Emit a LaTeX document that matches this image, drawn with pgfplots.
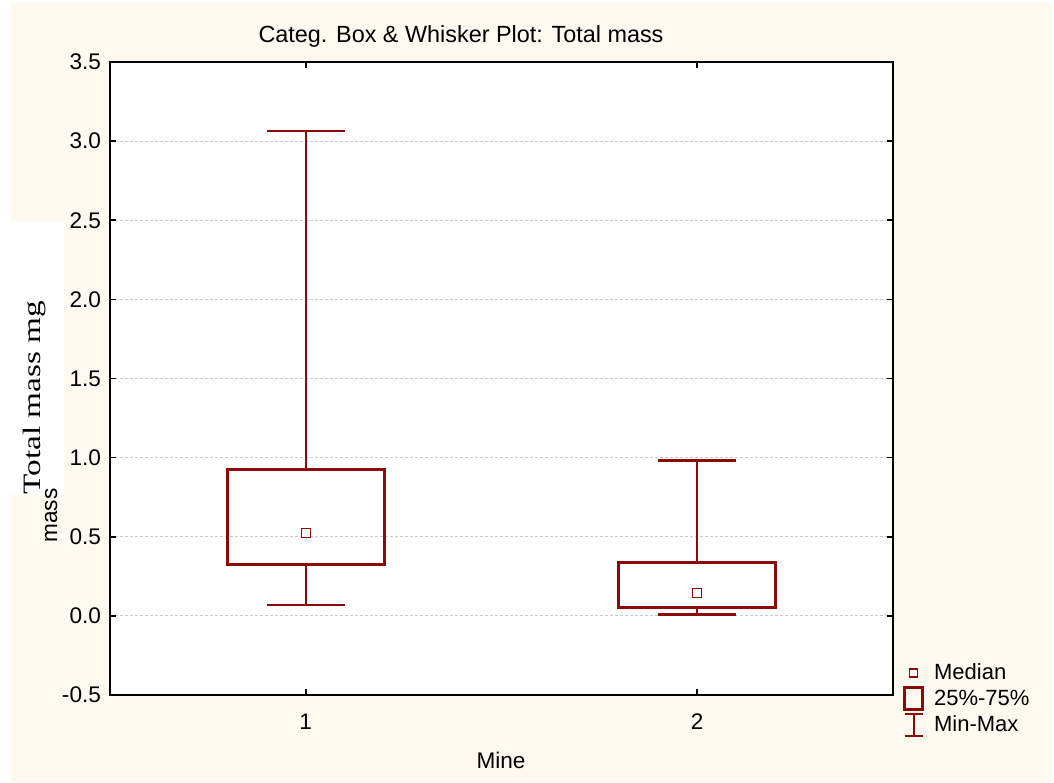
\documentclass[border=0pt]{standalone}
\usepackage{pgfplots}
\pgfplotsset{compat=1.18}
\usepgfplotslibrary{statistics}
\usepackage{fontspec}
\setmainfont{Liberation Sans}
\newfontfamily\timesfont{Liberation Serif}
\definecolor{cream}{HTML}{FEF9EF}
\definecolor{boxred}{HTML}{8C0A0A}
\definecolor{gridgray}{HTML}{C8C8C8}
\begin{document}
\begin{tikzpicture}
\begin{scope}[x=0.5pt,y=-0.5pt]
\fill[white] (0,0) rectangle (1054,782);
\fill[cream] (11,3) rectangle (1052,782);
\end{scope}
\begin{axis}[
  at={(55pt,-347.5pt)}, anchor=south west,
  scale only axis, width=391.5pt, height=316.5pt,
  xmin=0.5, xmax=2.5, ymin=-0.5, ymax=3.5,
  xtick={1,2}, ytick={-0.5,0,0.5,1,1.5,2,2.5,3,3.5},
  tick align=inside, major tick length=3pt,
  tick style={black, line width=0.8pt},
  axis line style={black, line width=0.9pt},
  axis background/.style={fill=white},
  ymajorgrids, major grid style={gridgray, dash pattern=on 1.5pt off 1pt, line width=0.5pt},
  /pgf/number format/assume math mode=true,
  yticklabel style={/pgf/number format/fixed, /pgf/number format/fixed zerofill, /pgf/number format/precision=1, xshift=-1pt},
  ticklabel style={font=\fontsize{11.3pt}{13pt}\selectfont},
  xticklabel style={yshift=-6pt},
  legend style={at={(1.01,0.06)}, anchor=north west, draw=none, fill=none,
    font=\fontsize{11pt}{13pt}\selectfont, row sep=-0.3pt, inner sep=1pt},
  legend cell align=left,
  boxplot/draw direction=y,
  boxplot/every median/.style={draw=none},
  boxplot/every box/.style={line width=1.5pt},
  boxplot/every whisker/.style={line width=1.2pt},
]
\addplot[boxred, solid, forget plot, boxplot prepared={draw position=1, lower whisker=0.07, lower quartile=0.322, median=0.524, upper quartile=0.922, upper whisker=3.064, box extend=0.4, whisker extend=0.2}] coordinates {};
\addplot[boxred, solid, forget plot, boxplot prepared={draw position=2, lower whisker=0.008, lower quartile=0.055, median=0.145, upper quartile=0.337, upper whisker=0.981, box extend=0.4, whisker extend=0.2}] coordinates {};
\addplot[only marks, forget plot, mark=square*, mark size=2.2pt, mark options={draw=boxred, fill=white, line width=0.6pt}] coordinates {(1,0.524) (2,0.145)};
\addlegendimage{legend image code/.code={\draw[boxred,line width=0.6pt,fill=white] (0.42cm-2pt,-2pt) rectangle (0.42cm+2pt,2pt); \path (0.42cm+8pt,0);}}
\addlegendentry{Median}
\addlegendimage{legend image code/.code={\draw[boxred,line width=1.5pt] (0.42cm-4.5pt,-5.5pt) rectangle (0.42cm+4.5pt,5.5pt); \path (0.42cm+8pt,0);}}
\addlegendentry{25\%-75\%}
\addlegendimage{legend image code/.code={\draw[boxred,line width=1pt] (0.42cm,-5.5pt) -- (0.42cm,5.5pt) (0.42cm-4.5pt,-5.5pt) -- (0.42cm+4.5pt,-5.5pt) (0.42cm-4.5pt,5.5pt) -- (0.42cm+4.5pt,5.5pt); \path (0.42cm+8pt,0);}}
\addlegendentry{Min-Max}
\end{axis}
\begin{scope}[x=0.5pt,y=-0.5pt]
\node[font=\fontsize{11.7pt}{14pt}\selectfont] at (461,36) {Categ. Box \& Whisker Plot: Total mass};
\node[font=\fontsize{11.3pt}{14pt}\selectfont] at (501,760) {Mine};
\fill[white] (11,221) rectangle (64,495);
\node[rotate=90, anchor=base west, inner sep=0pt, font=\timesfont\fontsize{12.5pt}{15pt}\selectfont] at (40,495) {\scalebox{1.33}[1]{Total mass mg}};
\node[rotate=90, anchor=base west, inner sep=0pt, font=\fontsize{11.3pt}{14pt}\selectfont] at (57,543) {mass};
\end{scope}
\end{tikzpicture}
\end{document}
